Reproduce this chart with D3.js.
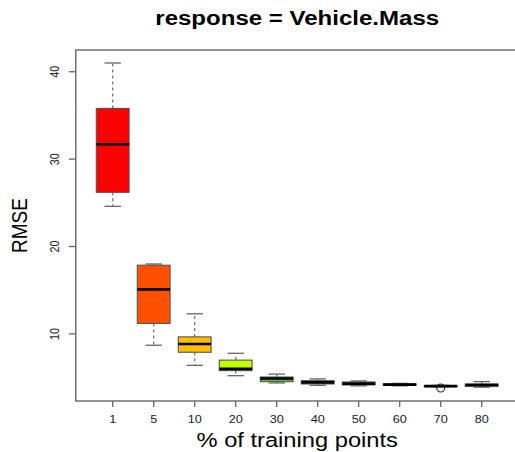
<!DOCTYPE html>
<html>
<head>
<meta charset="utf-8">
<script src="https://cdn.jsdelivr.net/npm/d3@7"></script>
<style>
  body { margin: 0; background: #fff; }
  text { font-family: "Liberation Sans", Arial, sans-serif; }
</style>
</head>
<body>
<div id="chart"></div>
<script>
// Box summaries
const categories = ['1', '5', '10', '20', '30', '40', '50', '60', '70', '80'];
const lowerWhisker = [24.6, 8.7, 6.4, 5.22, 4.39, 4.11, 4.05, 4.06, 3.95, 3.9];
const q1 = [26.2, 11.2, 7.9, 5.8, 4.54, 4.27, 4.16, 4.12, 3.98, 4.0];
const median = [31.7, 15.1, 8.85, 6.0, 4.89, 4.46, 4.3, 4.2, 4.02, 4.15];
const q3 = [35.8, 17.86, 9.66, 7.0, 5.07, 4.65, 4.5, 4.28, 4.08, 4.27];
const upperWhisker = [41.0, 18.0, 12.3, 7.78, 5.4, 4.85, 4.62, 4.34, 4.12, 4.54];
const outlierCats = ['70'];
const outlierValues = [3.81];
const boxColors = ['#ff0000', '#ff5000', '#ffbf00', '#c0ff00', '#55c41c', '#12401c', '#123a2a', '#10303a', '#142a48', '#16224e'];
const yTicks = [10, 20, 30, 40];

const width = 515;
const height = 452;
const plot = { left: 75.8, right: 518.6, top: 50, bottom: 401 };
const sx = 1.15; // picture is stretched a bit horizontally

const svg = d3.select('#chart')
    .append('svg')
    .attr('width', width)
    .attr('height', height);

// R style scales: 4% padding around the data
const x = d3.scaleLinear()
    .domain([0.1, 10.9])
    .range([plot.left, plot.right]);

const allVals = lowerWhisker.concat(upperWhisker, outlierValues);
const yMin = d3.min(allVals), yMax = d3.max(allVals);
const pad = (yMax - yMin) * 0.04;
const y = d3.scaleLinear()
    .domain([yMin - pad, yMax + pad])
    .range([plot.bottom, plot.top]);

const boxes = categories.map((c, i) => ({
    cat: c, pos: i + 1,
    lo: lowerWhisker[i], q1: q1[i], med: median[i], q3: q3[i], hi: upperWhisker[i],
    color: boxColors[i]
}));

const halfBox = (x(1.4) - x(1));
const halfStaple = halfBox / 2;

const g = svg.append('g');

// whiskers (dashed)
g.selectAll('.whisker')
    .data(boxes.flatMap(d => [[d, d.q3, d.hi], [d, d.q1, d.lo]]))
    .enter()
    .append('line')
    .attr('x1', d => x(d[0].pos))
    .attr('x2', d => x(d[0].pos))
    .attr('y1', d => y(d[1]))
    .attr('y2', d => y(d[2]))
    .attr('stroke', '#777')
    .attr('stroke-width', 1.3)
    .attr('stroke-dasharray', '3,3');

// staples
g.selectAll('.staple')
    .data(boxes.flatMap(d => [[d, d.hi], [d, d.lo]]))
    .enter()
    .append('line')
    .attr('x1', d => x(d[0].pos) - halfStaple)
    .attr('x2', d => x(d[0].pos) + halfStaple)
    .attr('y1', d => y(d[1]))
    .attr('y2', d => y(d[1]))
    .attr('stroke', '#666')
    .attr('stroke-width', 1.3);

// boxes
g.selectAll('.box')
    .data(boxes)
    .enter()
    .append('rect')
    .attr('x', d => x(d.pos) - halfBox)
    .attr('width', halfBox * 2)
    .attr('y', d => y(d.q3))
    .attr('height', d => Math.max(y(d.q1) - y(d.q3), 1))
    .attr('fill', d => d.color)
    .attr('stroke', '#555')
    .attr('stroke-width', 1.1);

// medians
g.selectAll('.median')
    .data(boxes)
    .enter()
    .append('line')
    .attr('x1', d => x(d.pos) - halfBox)
    .attr('x2', d => x(d.pos) + halfBox)
    .attr('y1', d => y(d.med))
    .attr('y2', d => y(d.med))
    .attr('stroke', '#000')
    .attr('stroke-width', 2.6);

// outliers
g.selectAll('.outlier')
    .data(outlierCats.map((c, i) => ({ pos: categories.indexOf(c) + 1, v: outlierValues[i] })))
    .enter()
    .append('circle')
    .attr('cx', d => x(d.pos))
    .attr('cy', d => y(d.v))
    .attr('r', 4)
    .attr('fill', 'none')
    .attr('stroke', '#222')
    .attr('stroke-width', 1.1);

// frame
svg.append('rect')
    .attr('x', plot.left)
    .attr('y', plot.top)
    .attr('width', plot.right - plot.left)
    .attr('height', plot.bottom - plot.top)
    .attr('fill', 'none')
    .attr('stroke', '#666')
    .attr('stroke-width', 1.4);

// x axis ticks
svg.selectAll('.xtick')
    .data(boxes)
    .enter()
    .append('line')
    .attr('x1', d => x(d.pos))
    .attr('x2', d => x(d.pos))
    .attr('y1', plot.bottom)
    .attr('y2', plot.bottom + 6)
    .attr('stroke', '#666')
    .attr('stroke-width', 1.3);

svg.selectAll('.xlabel')
    .data(boxes)
    .enter()
    .append('text')
    .attr('transform', d => `translate(${x(d.pos)},423) scale(${sx},1)`)
    .attr('text-anchor', 'middle')
    .attr('font-size', 11)
    .attr('fill', '#222')
    .text(d => d.cat);

// y axis ticks
svg.selectAll('.ytick')
    .data(yTicks)
    .enter()
    .append('line')
    .attr('x1', plot.left)
    .attr('x2', plot.left - 7)
    .attr('y1', d => y(d))
    .attr('y2', d => y(d))
    .attr('stroke', '#666')
    .attr('stroke-width', 1.3);

svg.selectAll('.ylabel')
    .data(yTicks)
    .enter()
    .append('text')
    .attr('transform', d => `translate(58.5,${y(d)}) scale(${sx},1) rotate(-90)`)
    .attr('text-anchor', 'middle')
    .attr('font-size', 10.8)
    .attr('fill', '#222')
    .text(d => d);

// titles
const midX = (plot.left + plot.right) / 2;
svg.append('text')
    .attr('transform', `translate(${midX},25) scale(${sx},1)`)
    .attr('text-anchor', 'middle')
    .attr('font-size', 20.9)
    .attr('font-weight', 'bold')
    .attr('fill', '#000')
    .text('response = Vehicle.Mass');

svg.append('text')
    .attr('transform', `translate(${midX},446.5) scale(${sx},1)`)
    .attr('text-anchor', 'middle')
    .attr('font-size', 20.6)
    .attr('fill', '#000')
    .text('% of training points');

svg.append('text')
    .attr('transform', `translate(27,${(plot.top + plot.bottom) / 2}) scale(${sx},1) rotate(-90)`)
    .attr('text-anchor', 'middle')
    .attr('font-size', 19)
    .attr('fill', '#000')
    .text('RMSE');
</script>
</body>
</html>
